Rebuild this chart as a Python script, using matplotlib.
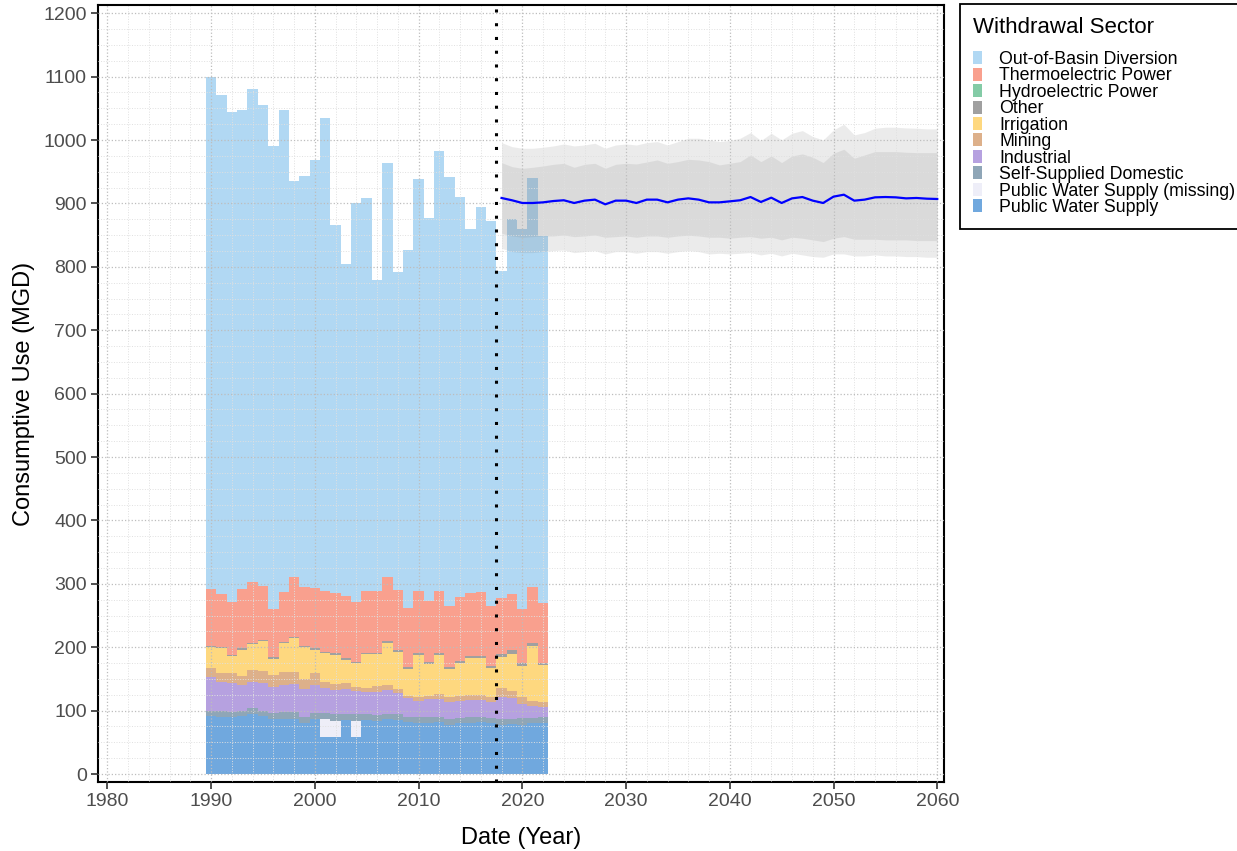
import numpy as np
import matplotlib.pyplot as plt
from matplotlib.patches import Patch
from matplotlib.ticker import MultipleLocator

plt.rcParams['font.family'] = ['Liberation Sans', 'DejaVu Sans']

# historical consumptive use by sector (MGD), 1990-2022
years = np.arange(1990, 2023)

public_supply = [92, 90, 90, 92, 95, 92, 86, 87, 87, 80, 86, 59, 58, 85, 58, 85, 84,
                 86, 85, 82, 81, 81, 82, 78, 80, 81, 82, 80, 78, 79, 78, 80, 80]
public_missing = [0, 0, 0, 0, 0, 0, 0, 0, 0, 0, 0, 27, 26, 0, 26, 0, 0,
                  0, 0, 0, 0, 0, 0, 0, 0, 0, 0, 0, 0, 0, 0, 0, 0]
self_domestic = [8.0, 9.5, 8.4, 8.0, 8.7, 8.0, 10.8, 10.4, 10.9, 10.5, 9.8, 9.8, 10.7,
                 9.7, 10.7, 9.2, 8.6, 8.7, 9.2, 8.5, 8.5, 9.5, 8.5, 9.4, 8.4, 8.5,
                 7.5, 7.9, 9.4, 8.4, 9.9, 8.4, 9.5]
industrial = [53.6, 46.2, 44.7, 39.9, 42.0, 44.1, 40.0, 43.1, 44.1, 43.1, 44.7, 39.4,
              37.9, 39.4, 36.8, 35.7, 37.4, 37.9, 34.2, 28.9, 26.2, 27.3, 27.3, 26.8,
              27.3, 27.3, 27.3, 26.3, 34.6, 32.0, 22.6, 18.9, 16.8]
mining = [14.2, 13.2, 15.8, 15.3, 18.4, 18.4, 19.4, 20.5, 19.5, 15.8, 19.4, 10.5, 9.4,
          10.0, 5.3, 5.3, 8.9, 7.9, 5.2, 4.2, 5.3, 5.3, 8.4, 6.8, 7.4, 7.9, 7.9, 7.8,
          13.2, 11.6, 10.5, 8.4, 7.9]
irrigation = [32.7, 40.6, 27.4, 41.1, 41.2, 47.0, 25.9, 45.8, 53.2, 50.6, 36.4, 45.3,
              45.9, 35.9, 38.0, 53.8, 50.0, 65.7, 59.1, 42.8, 67.0, 51.2, 61.8, 44.3,
              52.7, 59.0, 58.5, 44.9, 49.6, 58.7, 48.6, 85.5, 57.0]
other = [1.5, 1.5, 1.5, 2, 2, 2, 2, 2, 2, 2, 2, 2, 2.5, 2.5, 2.5, 2.5, 2.6, 3.7, 3, 3,
         3.5, 3, 3.5, 3, 3, 3, 3.5, 3.5, 4, 6, 5, 6, 4.5]
hydroelectric = [0] * 33
thermoelectric = [89.5, 82.6, 84.2, 93.2, 96.3, 85.8, 76.4, 78.5, 94.8, 92.7, 94.7, 95.9,
                  95.9, 98.5, 94.7, 97.4, 97.4, 100.1, 94.8, 93.2, 97.4, 95.7, 97.4,
                  96.9, 100.2, 99.6, 100.6, 94.8, 89.6, 87.9, 86.4, 87.5, 93.7]
out_of_basin = [808.5, 787.4, 773.0, 755.5, 777.4, 758.7, 730.5, 760.7, 624.5, 648.3,
                676.0, 745.1, 579.7, 524.0, 628.0, 619.1, 490.1, 654.0, 501.5, 564.4,
                649.1, 604.0, 694.1, 676.8, 631.0, 572.7, 606.7, 606.8, 515.6, 592.4,
                598.0, 645.3, 578.6]

# projection 2018-2060
proj_years = np.arange(2018, 2061)
proj_median = [908.6, 905, 900.7, 900.7, 901.7, 903.8, 905, 900.7, 904.4, 906,
               898.6, 904.4, 904.4, 900.7, 906, 906, 901.7, 906, 908, 906,
               901.7, 901.7, 903.3, 905, 910.1, 902.3, 909.1, 900.7, 908, 910.1,
               904.4, 900.7, 910.7, 913.8, 904.4, 906, 909.6, 910.1, 909.6, 908,
               908.6, 907.5, 907]
inner_hi = [964.4, 958.1, 955.4, 957.0, 959.1, 961.7, 963.3, 957.0, 961.7, 963.3,
            955.4, 961.7, 963.3, 962.3, 965.4, 968.6, 963.3, 966.0, 969.6, 968.6,
            966.0, 960.8, 963.4, 966.0, 976.5, 966.0, 975.0, 964.5, 975.0, 978.1,
            972.9, 964.5, 979.2, 985.5, 971.3, 976.5, 981.8, 981.8, 981.8, 980.7,
            980.2, 980.2, 980.2]
outer_hi = [995.9, 989.6, 987.0, 987.0, 988.6, 990.7, 993.8, 990.7, 992.2, 994.9,
            987.0, 992.2, 993.8, 992.2, 995.9, 997.5, 992.2, 997.5, 1002.8, 1002.8,
            1000.1, 997.6, 999.2, 1002.8, 1011.8, 999.2, 1010.7, 1000.2, 1010.7, 1014.9,
            1005.5, 1000.2, 1016.0, 1024.9, 1008.1, 1011.8, 1018.6, 1020.2, 1020.2, 1019.1,
            1018.6, 1017.6, 1017.6]
inner_lo = [852.9, 848.7, 846.6, 847.6, 848.7, 848.7, 850.3, 847.6, 848.7, 850.3,
            846.6, 847.6, 848.7, 846.6, 848.7, 848.7, 846.6, 848.7, 849.8, 848.7,
            846.6, 846.7, 845.1, 846.7, 847.7, 845.1, 846.7, 842.5, 846.7, 845.1,
            842.5, 839.8, 845.1, 847.7, 843.5, 843.5, 843.5, 842.5, 842.5, 842.5,
            841.4, 841.4, 841.4]
outer_lo = [829.2, 824.0, 822.4, 822.4, 824.0, 825.6, 826.6, 822.4, 824.0, 825.6,
            820.3, 824.0, 824.0, 821.4, 824.0, 824.0, 821.4, 824.0, 825.6, 824.0,
            820.3, 821.4, 820.4, 821.4, 822.5, 818.8, 821.4, 817.2, 821.4, 818.8,
            816.2, 815.1, 820.4, 820.4, 817.2, 817.2, 818.8, 817.2, 817.2, 816.2,
            816.2, 815.1, 815.1]

# bottom to top
layers = [
    ('Public Water Supply', public_supply, '#70A8DE'),
    ('Public Water Supply (missing)', public_missing, '#EEEEF8'),
    ('Self-Supplied Domestic', self_domestic, '#8FA6B7'),
    ('Industrial', industrial, '#B6A1E0'),
    ('Mining', mining, '#DDB08A'),
    ('Irrigation', irrigation, '#FED87F'),
    ('Other', other, '#A0A0A0'),
    ('Hydroelectric Power', hydroelectric, '#84CBA6'),
    ('Thermoelectric Power', thermoelectric, '#F9A08E'),
    ('Out-of-Basin Diversion', out_of_basin, '#B1D8F3'),
]

fig = plt.figure(figsize=(12.37, 8.51), dpi=100)
ax = fig.add_axes([98 / 1237, 1 - 782 / 851, 846 / 1237, 777 / 851])

bottom = np.zeros(len(years))
for name, vals, color in layers:
    vals = np.array(vals, dtype=float)
    ax.bar(years, vals, width=1.0, bottom=bottom, color=color, linewidth=0, zorder=1)
    bottom += vals

ax.fill_between(proj_years, outer_lo, outer_hi, color='#7F7F7F', alpha=0.15, lw=0, zorder=1.5)
ax.fill_between(proj_years, inner_lo, inner_hi, color='#7F7F7F', alpha=0.15, lw=0, zorder=1.5)
ax.plot(proj_years, proj_median, color='blue', lw=1.6, zorder=3)
ax.axvline(2017.5, color='black', ls=(0, (1, 3.5)), lw=2.2, zorder=3)

ax.set_xlim(1979.1, 2060.65)
ax.set_ylim(-12.6, 1213)
ax.xaxis.set_major_locator(MultipleLocator(10))
ax.xaxis.set_minor_locator(MultipleLocator(2))
ax.yaxis.set_major_locator(MultipleLocator(100))
ax.yaxis.set_minor_locator(MultipleLocator(25))

ax.set_axisbelow(False)
ax.grid(which='major', color='#BDBDBD', ls=':', lw=0.9)
ax.grid(which='minor', color='#E0E0E0', ls=':', lw=0.7)

ax.tick_params(which='major', direction='out', length=5, width=1.2, color='#333333',
               labelsize=14, labelcolor='#4D4D4D', pad=3)
ax.tick_params(which='minor', length=0)
for sp in ax.spines.values():
    sp.set_linewidth(1.5)
    sp.set_color('black')

ax.set_xlabel('Date (Year)', fontsize=17, labelpad=12)
ax.set_ylabel('Consumptive Use (MGD)', fontsize=17, labelpad=6)

handles = [Patch(facecolor=c, edgecolor='none') for _, _, c in layers[::-1]]
labels = [n for n, _, _ in layers[::-1]]
leg = fig.legend(handles, labels, title='Withdrawal Sector', loc='upper left',
                 bbox_to_anchor=(960 / 1237, 1 - 4 / 851), frameon=True, fancybox=False,
                 edgecolor='black', framealpha=1, fontsize=12.8, title_fontsize=16,
                 handlelength=0.5, handleheight=0.75, handletextpad=0.95,
                 labelspacing=-0.03, borderpad=0.75, borderaxespad=0, alignment='left')
leg.get_frame().set_linewidth(1.3)
# extra room between the title and the first key
leg._legend_box.sep = 9

fig.savefig('out.png', dpi=100)
